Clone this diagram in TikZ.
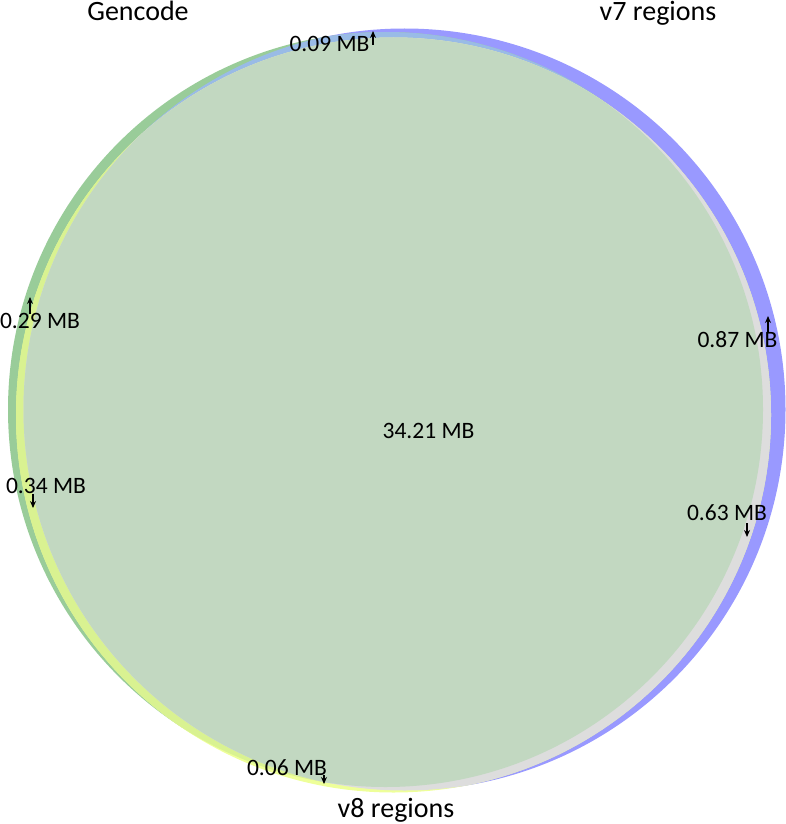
\documentclass[tikz,border=0pt]{standalone}
\usepackage{fontspec}
\setmainfont{Carlito}
\usetikzlibrary{arrows.meta}
\definecolor{vsev}{HTML}{9999FF}
\definecolor{gen}{HTML}{99CC99}
\definecolor{veig}{HTML}{EEFF99}
\definecolor{genveig}{HTML}{D9F291}
\definecolor{gensev}{HTML}{99BBE6}
\definecolor{sevveig}{HTML}{DDDDDD}
\definecolor{allthree}{HTML}{C2D8C1}
\tikzset{
  num/.style={font=\fontsize{23.5}{26}\selectfont, anchor=base, inner sep=0pt},
  ttl/.style={font=\fontsize{28}{32}\selectfont, anchor=base, inner sep=0pt},
  ptr/.style={-{Stealth[length=7pt,width=6pt]}, line width=1.7pt, black},
}
\begin{document}
\begin{tikzpicture}[x=1pt,y=-1pt]
\useasboundingbox (0,0) rectangle (786,824);
\coordinate (cG) at (385.5,409.5);
\coordinate (cS) at (404.5,409.5);
\coordinate (cE) at (393.5,415);
\def\rG{377.5pt}
\def\rS{381pt}
\def\rE{377.5pt}
% single sets
\fill[vsev] (cS) circle[radius=\rS];
\fill[gen] (cG) circle[radius=\rG];
\fill[veig] (cE) circle[radius=\rE];
% pairwise
\begin{scope}
  \clip (cG) circle[radius=\rG];
  \fill[gensev] (cS) circle[radius=\rS];
  \fill[genveig] (cE) circle[radius=\rE];
\end{scope}
\begin{scope}
  \clip (cS) circle[radius=\rS];
  \fill[sevveig] (cE) circle[radius=\rE];
\end{scope}
% all three
\begin{scope}
  \clip (cG) circle[radius=\rG];
  \clip (cS) circle[radius=\rS];
  \fill[allthree] (cE) circle[radius=\rE];
\end{scope}
% titles
\node[ttl] (tG) at (138,21) {Gencode};
\node[ttl] (tS) at (658,21) {v7 regions};
\node[ttl] (tE) at (396,817) {v8 regions};
% numbers
\node[num] (nAll) at (428.5,438) {34.21 MB};
\node[num] (nGS) at (329.5,52) {0.09 MB};
\node[num] (nG) at (40,328) {0.29 MB};
\node[num] (nGE) at (46,493) {0.34 MB};
\node[num] (nS) at (737.5,347) {0.87 MB};
\node[num] (nSE) at (727,520) {0.63 MB};
\node[num] (nE) at (287,775) {0.06 MB};
% pointers
\coordinate (aGSs) at (373,45); \coordinate (aGSe) at (373,31);
\coordinate (aGs) at (30,314); \coordinate (aGe) at (30,297);
\coordinate (aGEs) at (33,494); \coordinate (aGEe) at (33,508);
\coordinate (aSs) at (768,333); \coordinate (aSe) at (768,316);
\coordinate (aSEs) at (747,523); \coordinate (aSEe) at (747,537);
\coordinate (aEs) at (324,775); \coordinate (aEe) at (324,784);
\draw[ptr] (aGSs) -- (aGSe);
\draw[ptr] (aGs) -- (aGe);
\draw[ptr] (aGEs) -- (aGEe);
\draw[ptr] (aSs) -- (aSe);
\draw[ptr] (aSEs) -- (aSEe);
\draw[ptr] (aEs) -- (aEe);
\end{tikzpicture}
\end{document}
